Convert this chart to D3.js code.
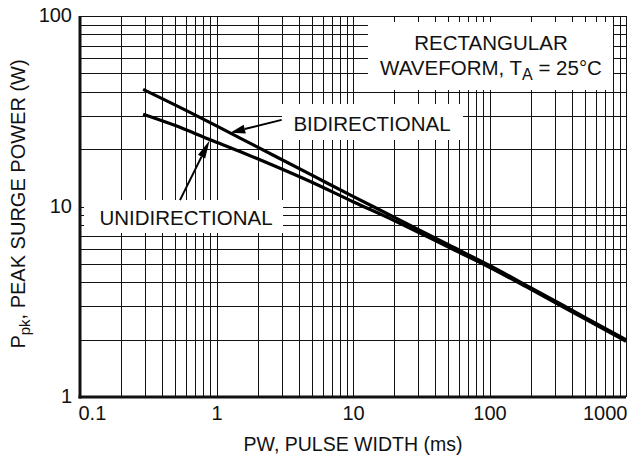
<!DOCTYPE html>
<html>
<head>
<meta charset="utf-8">
<script src="https://cdn.jsdelivr.net/npm/d3@7"></script>
<style>
  html, body { margin: 0; padding: 0; background: #fff; }
  svg { display: block; }
  text { font-family: "Liberation Sans", Arial, Helvetica, sans-serif; fill: #111; }
</style>
</head>
<body>
<svg id="chart" width="631" height="460"></svg>
<script>
// ---- data ----
const xTickValues = [0.1, 1, 10, 100, 1000];
const xTickLabels = ["0.1", "1", "10", "100", "1000"];
const yTickValues = [1, 10, 100];
const yTickLabels = ["1", "10", "100"];

// Bidirectional curve: pulse width (ms), peak power (W)
const biPW    = [0.29, 0.7, 1, 2, 5, 10, 20, 50, 100, 200, 500, 1000];
const biPower = [41.2, 30.2, 26.5, 20.5, 14.6, 11.3, 8.8, 6.3, 4.9, 3.75, 2.62, 2.0];
// Unidirectional curve
const uniPW    = [0.29, 0.5, 0.9, 1.5, 2, 5, 10, 20, 50, 100, 200, 500, 1000];
const uniPower = [30.5, 26.6, 22.4, 19.4, 17.8, 13.4, 10.6, 8.45, 6.12, 4.8, 3.68, 2.57, 1.96];

// annotation anchors (data coordinates)
const biArrow  = { from: [3.0, 28.5], to: [1.26, 24.4] };
const uniArrow = { from: [0.54, 10.8], to: [0.89, 22.2] };

// ---- layout ----
const svg = d3.select("#chart");
const X0 = 80, X1 = 626, Y0 = 397, Y1 = 16;
const x = d3.scaleLog().domain([0.1, 1000]).range([X0, X1]);
const y = d3.scaleLog().domain([1, 100]).range([Y0, Y1]);

// grid values (1..9 per decade)
const xGrid = [];
for (let e = -1; e <= 2; e++) for (let k = 1; k <= 9; k++) xGrid.push(k * Math.pow(10, e));
xGrid.push(1000);
const yGrid = [];
for (let e = 0; e <= 1; e++) for (let k = 1; k <= 9; k++) yGrid.push(k * Math.pow(10, e));
yGrid.push(100);

const grid = svg.append("g").attr("stroke", "#111").attr("stroke-width", 1);
grid.selectAll("line.v").data(xGrid).join("line")
  .attr("x1", d => Math.round(x(d)) + 0.5).attr("x2", d => Math.round(x(d)) + 0.5)
  .attr("y1", Y1).attr("y2", Y0);
grid.selectAll("line.h").data(yGrid).join("line")
  .attr("y1", d => Math.round(y(d)) + 0.5).attr("y2", d => Math.round(y(d)) + 0.5)
  .attr("x1", X0).attr("x2", X1);

// white label boxes (cover grid)
const boxes = [
  { x: 368, y: 22, w: 245, h: 68 },   // title
  { x: 282, y: 104, w: 181, h: 36 },  // BIDIRECTIONAL
  { x: 84,  y: 200, w: 199, h: 33 }   // UNIDIRECTIONAL
];
svg.append("g").selectAll("rect").data(boxes).join("rect")
  .attr("x", d => d.x).attr("y", d => d.y).attr("width", d => d.w).attr("height", d => d.h)
  .attr("fill", "#fff");

// axes (thick left & bottom)
svg.append("line").attr("x1", X0).attr("x2", X0).attr("y1", Y1).attr("y2", Y0 + 1.5)
  .attr("stroke", "#111").attr("stroke-width", 3);
svg.append("line").attr("x1", X0 - 1.5).attr("x2", X1).attr("y1", Y0).attr("y2", Y0)
  .attr("stroke", "#111").attr("stroke-width", 3);

// tick labels via d3 axes
const xAxis = d3.axisBottom(x).tickValues(xTickValues)
  .tickFormat((d, i) => xTickLabels[i]).tickSize(0).tickPadding(0);
const gx = svg.append("g").attr("transform", `translate(0,${Y0})`).call(xAxis);
gx.select(".domain").remove();
gx.selectAll("text").attr("font-size", 20).attr("dy", null).attr("y", 23)
  .attr("fill", "#111")
  .style("font-family", '"Liberation Sans", Arial, sans-serif')
  .attr("text-anchor", (d, i) => i === 0 ? "start" : (i === xTickValues.length - 1 ? "end" : "middle"))
  .attr("x", (d, i) => i === 0 ? -2 : (i === xTickValues.length - 1 ? 1 : 0));

const yAxis = d3.axisLeft(y).tickValues(yTickValues)
  .tickFormat((d, i) => yTickLabels[i]).tickSize(0).tickPadding(8);
const gy = svg.append("g").attr("transform", `translate(${X0},0)`).call(yAxis);
gy.select(".domain").remove();
gy.selectAll("text").attr("font-size", 20).attr("dy", "0.28em")
  .attr("fill", "#111")
  .style("font-family", '"Liberation Sans", Arial, sans-serif');

// curves
const line = d3.line().x(d => x(d[0])).y(d => y(d[1])).curve(d3.curveMonotoneX);
svg.append("path").datum(biPW.map((v, i) => [v, biPower[i]]))
  .attr("d", line).attr("fill", "none").attr("stroke", "#000").attr("stroke-width", 3.2);
svg.append("path").datum(uniPW.map((v, i) => [v, uniPower[i]]))
  .attr("d", line).attr("fill", "none").attr("stroke", "#000").attr("stroke-width", 3.2);

// arrows
function arrow(a, headLen, headHalf) {
  const x1 = x(a.from[0]), y1 = y(a.from[1]), x2 = x(a.to[0]), y2 = y(a.to[1]);
  const ang = Math.atan2(y2 - y1, x2 - x1);
  const bx = x2 - headLen * Math.cos(ang), by = y2 - headLen * Math.sin(ang);
  svg.append("line").attr("x1", x1).attr("y1", y1).attr("x2", bx).attr("y2", by)
    .attr("stroke", "#000").attr("stroke-width", 2);
  const px = -Math.sin(ang) * headHalf, py = Math.cos(ang) * headHalf;
  svg.append("path")
    .attr("d", `M${x2},${y2}L${bx + px},${by + py}L${bx - px},${by - py}Z`)
    .attr("fill", "#000");
}
arrow(biArrow, 15, 4.5);
arrow(uniArrow, 18, 4);

// labels
svg.append("text").attr("x", 372).attr("y", 131).attr("text-anchor", "middle")
  .attr("font-size", 20.5).text("BIDIRECTIONAL");
svg.append("text").attr("x", 186).attr("y", 225).attr("text-anchor", "middle")
  .attr("font-size", 20.5).text("UNIDIRECTIONAL");

svg.append("text").attr("x", 491).attr("y", 50).attr("text-anchor", "middle")
  .attr("font-size", 20.5).text("RECTANGULAR");
const t2 = svg.append("text").attr("x", 491).attr("y", 75).attr("text-anchor", "middle")
  .attr("font-size", 20.5);
t2.append("tspan").text("WAVEFORM, T");
t2.append("tspan").attr("dy", 5).attr("font-size", 16).text("A");
t2.append("tspan").attr("dy", -5).text(" = 25°C");

// axis titles
svg.append("text").attr("x", 353).attr("y", 451).attr("text-anchor", "middle")
  .attr("font-size", 19.5).text("PW, PULSE WIDTH (ms)");

const yl = svg.append("text").attr("transform", "translate(25,204) rotate(-90)")
  .attr("text-anchor", "middle").attr("font-size", 20);
yl.append("tspan").text("P");
yl.append("tspan").attr("dy", 5).attr("font-size", 15).text("pk");
yl.append("tspan").attr("dy", -5).text(", PEAK SURGE POWER (W)");
</script>
</body>
</html>
